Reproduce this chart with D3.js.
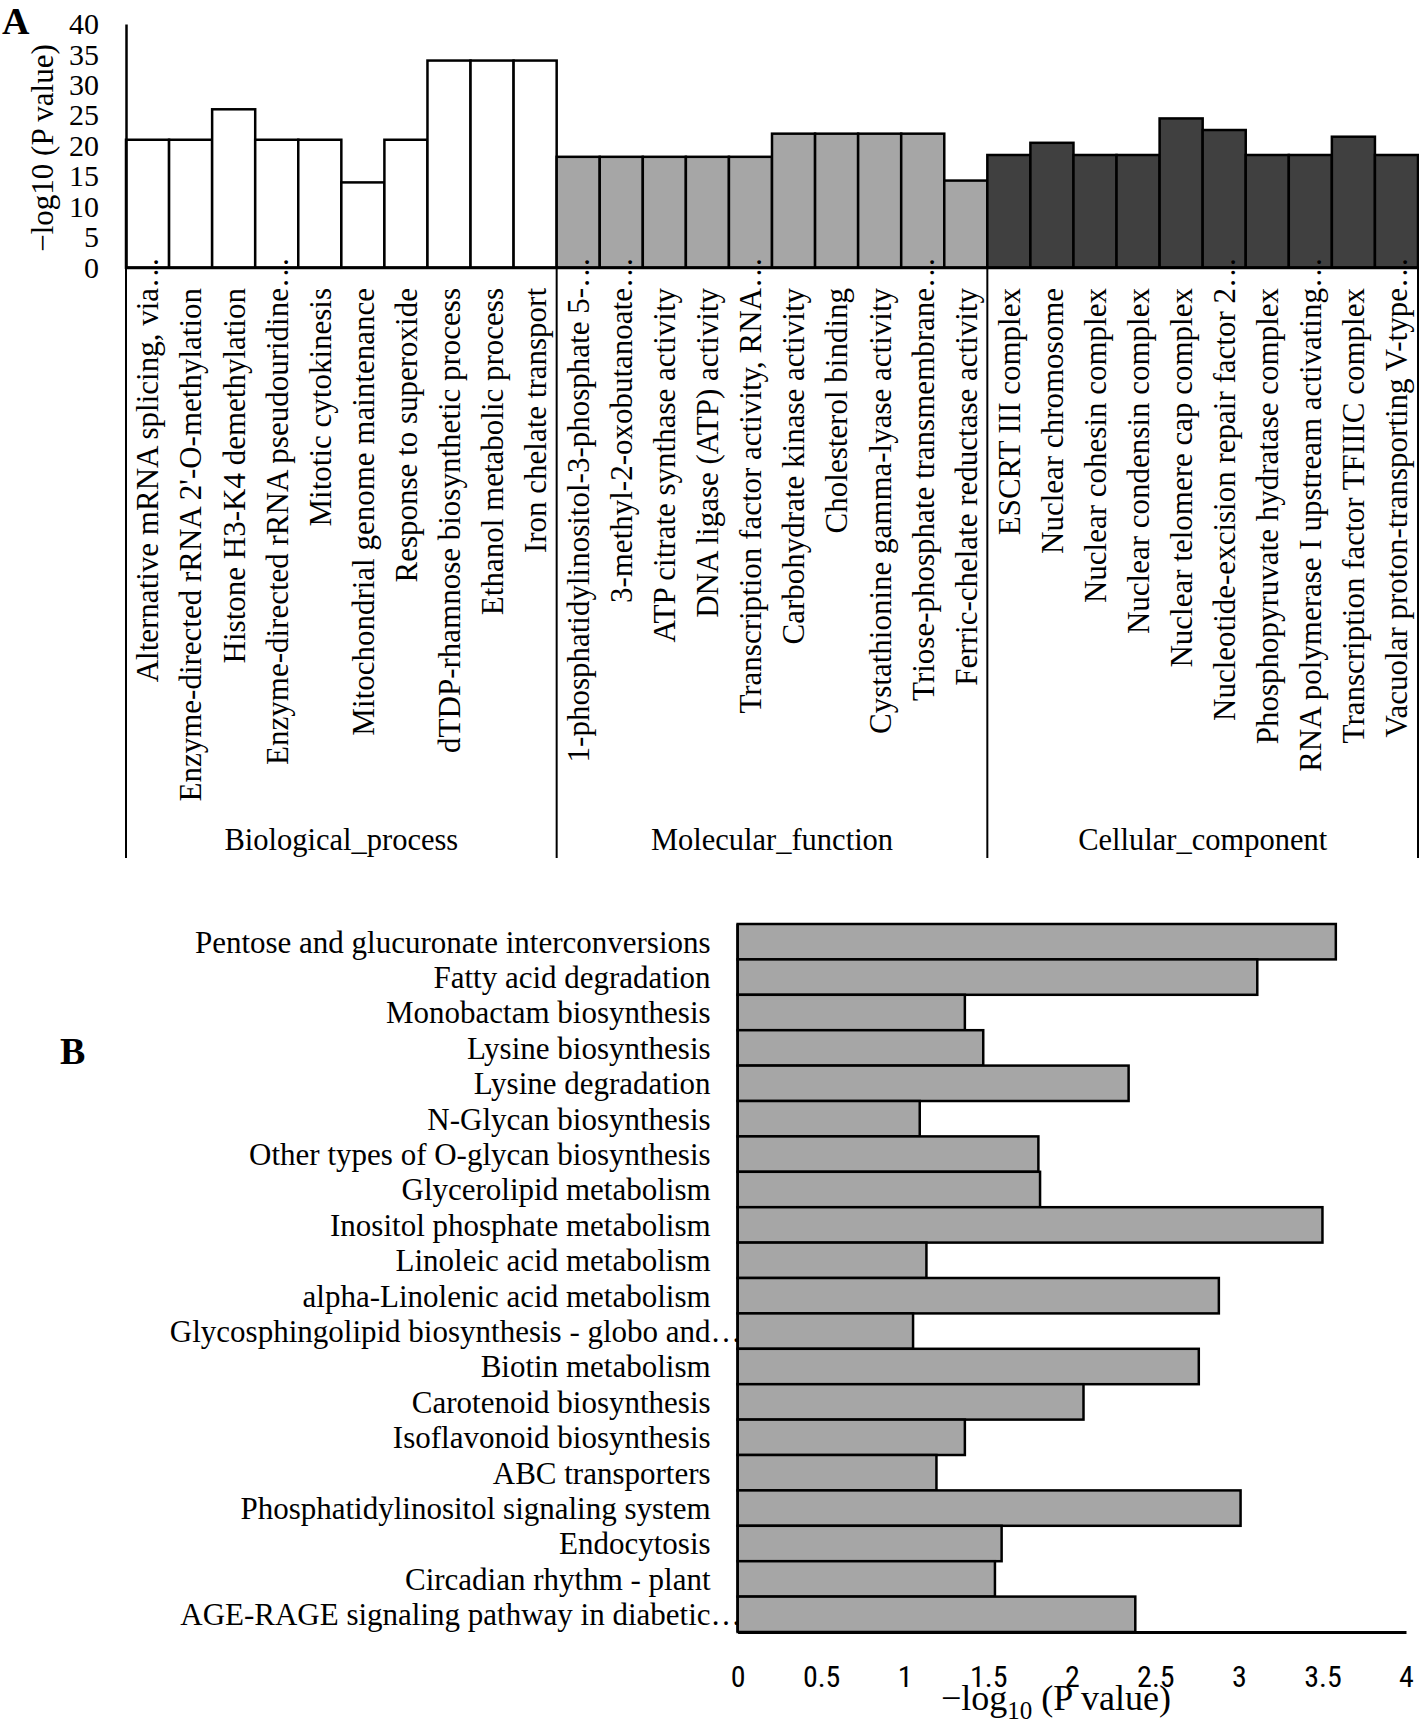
<!DOCTYPE html>
<html>
<head>
<meta charset="utf-8">
<script src="https://cdn.jsdelivr.net/npm/d3@7"></script>
<style>
  body { margin: 0; background: #fff; }
  svg text { font-family: "Liberation Serif", "Times New Roman", serif; fill: #000; }
</style>
</head>
<body>
<script>
// Panel A: GO terms, grouped
const bpTerms = ["Alternative mRNA splicing, via…", "Enzyme-directed rRNA 2'-O-methylation", "Histone H3-K4 demethylation",
  "Enzyme-directed rRNA pseudouridine…", "Mitotic cytokinesis", "Mitochondrial genome maintenance",
  "Response to superoxide", "dTDP-rhamnose biosynthetic process", "Ethanol metabolic process", "Iron chelate transport"];
const bpValues = [21, 21, 26, 21, 21, 14, 21, 34, 34, 34];

const mfTerms = ["1-phosphatidylinositol-3-phosphate 5-…", "3-methyl-2-oxobutanoate…", "ATP citrate synthase activity",
  "DNA ligase (ATP) activity", "Transcription factor activity, RNA…", "Carbohydrate kinase activity",
  "Cholesterol binding", "Cystathionine gamma-lyase activity", "Triose-phosphate transmembrane…",
  "Ferric-chelate reductase activity"];
const mfValues = [18.2, 18.2, 18.2, 18.2, 18.2, 22, 22, 22, 22, 14.3];

const ccTerms = ["ESCRT III complex", "Nuclear chromosome", "Nuclear cohesin complex", "Nuclear condensin complex",
  "Nuclear telomere cap complex", "Nucleotide-excision repair factor 2…", "Phosphopyruvate hydratase complex",
  "RNA polymerase I upstream activating…", "Transcription factor TFIIIC complex", "Vacuolar proton-transporting V-type…"];
const ccValues = [18.5, 20.5, 18.5, 18.5, 24.5, 22.6, 18.5, 18.5, 21.5, 18.5];

const groupNames = ["Biological_process", "Molecular_function", "Cellular_component"];
const groupColors = ["#ffffff", "#a6a6a6", "#404040"];
const yTicksA = [0, 5, 10, 15, 20, 25, 30, 35, 40];

// Panel B: KEGG pathways
const keggTerms = ["Pentose and glucuronate interconversions", "Fatty acid degradation", "Monobactam biosynthesis",
  "Lysine biosynthesis", "Lysine degradation", "N-Glycan biosynthesis", "Other types of O-glycan biosynthesis",
  "Glycerolipid metabolism", "Inositol phosphate metabolism", "Linoleic acid metabolism",
  "alpha-Linolenic acid metabolism", "Glycosphingolipid biosynthesis - globo and…", "Biotin metabolism",
  "Carotenoid biosynthesis", "Isoflavonoid biosynthesis", "ABC transporters",
  "Phosphatidylinositol signaling system", "Endocytosis", "Circadian rhythm - plant",
  "AGE-RAGE signaling pathway in diabetic…"];
const keggValues = [3.58, 3.11, 1.36, 1.47, 2.34, 1.09, 1.80, 1.81, 3.50, 1.13,
  2.88, 1.05, 2.76, 2.07, 1.36, 1.19, 3.01, 1.58, 1.54, 2.38];
const xTicksB = [0, 0.5, 1, 1.5, 2, 2.5, 3, 3.5, 4];

const W = 1419, H = 1723;
const svg = d3.select("body").append("svg").attr("width", W).attr("height", H);

// split a trailing ellipsis so the main text lines up with the others
function labelWithEllipsis(sel, label) {
  const cut = label.endsWith("…");
  sel.text(cut ? label.slice(0, -1) : label);
  if (cut) {
    sel.append("tspan").attr("x", 0).attr("y", 0).attr("dy", "0.35em")
      .attr("text-anchor", "start").text("…");
  }
}

// ---------- Panel A ----------
const groups = [
  {name: groupNames[0], terms: bpTerms, values: bpValues, color: groupColors[0]},
  {name: groupNames[1], terms: mfTerms, values: mfValues, color: groupColors[1]},
  {name: groupNames[2], terms: ccTerms, values: ccValues, color: groupColors[2]}
];
const rowsA = groups.flatMap(g => g.terms.map((t, i) => ({term: t, value: g.values[i], color: g.color})));

const xA = d3.scaleBand().domain(rowsA.map(d => d.term)).range([126, 1418]).padding(0);
const yA = d3.scaleLinear().domain([0, 40]).range([267.7, 24]);

const gA = svg.append("g");

gA.selectAll("rect.barA")
  .data(rowsA)
  .join("rect")
  .attr("class", "barA")
  .attr("x", d => xA(d.term))
  .attr("y", d => yA(d.value))
  .attr("width", xA.bandwidth())
  .attr("height", d => yA(0) - yA(d.value))
  .attr("fill", d => d.color)
  .attr("stroke", "#000")
  .attr("stroke-width", 2.5);

// y axis
const yAxisA = gA.append("g")
  .attr("transform", `translate(${xA.range()[0]},0)`)
  .call(d3.axisLeft(yA).tickValues(yTicksA).tickSize(0).tickSizeOuter(0).tickPadding(27));
yAxisA.select(".domain").attr("stroke", "#000").attr("stroke-width", 2.5);
yAxisA.selectAll("text").attr("font-size", 30).style("font-family", "Liberation Serif, Times New Roman, serif");

// baseline
gA.append("line")
  .attr("x1", xA.range()[0]).attr("x2", xA.range()[1])
  .attr("y1", yA(0)).attr("y2", yA(0))
  .attr("stroke", "#000").attr("stroke-width", 3);

// group separators
const sepBottom = 858;
const sepX = [xA(bpTerms[0]), xA(mfTerms[0]), xA(ccTerms[0]), xA.range()[1]];
gA.selectAll("line.sep")
  .data(sepX)
  .join("line")
  .attr("class", "sep")
  .attr("x1", d => d).attr("x2", d => d)
  .attr("y1", yA(0)).attr("y2", sepBottom)
  .attr("stroke", "#000").attr("stroke-width", 2);

// rotated bar labels
gA.selectAll("text.catA")
  .data(rowsA)
  .join("text")
  .attr("class", "catA")
  .attr("transform", d => `translate(${xA(d.term) + xA.bandwidth() / 2},288) rotate(-90)`)
  .attr("text-anchor", "end")
  .attr("dy", "0.35em")
  .attr("font-size", 31)
  .each(function(d) { labelWithEllipsis(d3.select(this), d.term); });

// group labels
gA.selectAll("text.grp")
  .data(groups)
  .join("text")
  .attr("class", "grp")
  .attr("x", (g, i) => (sepX[i] + sepX[i + 1]) / 2)
  .attr("y", 850)
  .attr("text-anchor", "middle")
  .attr("font-size", 30.5)
  .text(g => g.name);

// y title
gA.append("text")
  .attr("transform", "translate(42,148) rotate(-90)")
  .attr("text-anchor", "middle")
  .attr("dy", "0.35em")
  .attr("font-size", 31)
  .text("−log10 (P value)");

svg.append("text").attr("x", 2).attr("y", 34)
  .attr("font-size", 38).attr("font-weight", "bold").text("A");

// ---------- Panel B ----------
const rowsB = keggTerms.map((t, i) => ({term: t, value: keggValues[i]}));
const yB = d3.scaleBand().domain(keggTerms).range([924, 1632]).padding(0);
const xB = d3.scaleLinear().domain([0, 4]).range([737.6, 1406]);

const gB = svg.append("g");

gB.selectAll("rect.barB")
  .data(rowsB)
  .join("rect")
  .attr("class", "barB")
  .attr("x", xB(0))
  .attr("y", d => yB(d.term))
  .attr("width", d => xB(d.value) - xB(0))
  .attr("height", yB.bandwidth())
  .attr("fill", "#a6a6a6")
  .attr("stroke", "#000")
  .attr("stroke-width", 2.5);

const xAxisB = gB.append("g")
  .attr("transform", `translate(0,${yB.range()[1]})`)
  .call(d3.axisBottom(xB).tickValues(xTicksB).tickFormat(d3.format("~g"))
    .tickSize(0).tickSizeOuter(0).tickPadding(34));
xAxisB.select(".domain").attr("stroke", "#000").attr("stroke-width", 3);
xAxisB.selectAll("text")
  .attr("font-size", 30)
  .style("font-family", "'Liberation Sans Narrow', 'Roboto Condensed', 'DejaVu Sans Condensed', sans-serif");

gB.append("line")
  .attr("x1", xB(0)).attr("x2", xB(0))
  .attr("y1", yB.range()[0]).attr("y2", yB.range()[1])
  .attr("stroke", "#000").attr("stroke-width", 2.5);

gB.selectAll("text.catB")
  .data(rowsB)
  .join("text")
  .attr("class", "catB")
  .attr("transform", d => `translate(710.6,${yB(d.term) + yB.bandwidth() / 2})`)
  .attr("text-anchor", "end")
  .attr("dy", "0.35em")
  .attr("font-size", 31)
  .each(function(d) { labelWithEllipsis(d3.select(this), d.term); });

const titleB = gB.append("text")
  .attr("x", 1056).attr("y", 1710)
  .attr("text-anchor", "middle")
  .attr("font-size", 36);
titleB.append("tspan").text("−log");
titleB.append("tspan").attr("font-size", 25).attr("dy", 9).text("10");
titleB.append("tspan").attr("dy", -9).text(" (P value)");

svg.append("text").attr("x", 60).attr("y", 1064)
  .attr("font-size", 38).attr("font-weight", "bold").text("B");
</script>
</body>
</html>
